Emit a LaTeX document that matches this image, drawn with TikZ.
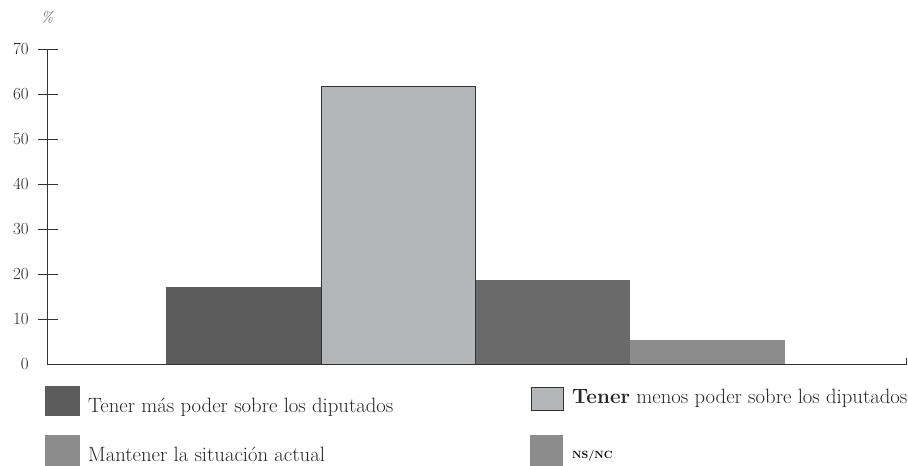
\documentclass[tikz,border=0pt]{standalone}
\usepackage{fontspec}
\setmainfont{Latin Modern Roman}
\definecolor{barA}{HTML}{5C5C5C}
\definecolor{barB}{HTML}{B4B6B8}
\definecolor{barC}{HTML}{6A6A6A}
\definecolor{barD}{HTML}{8C8C8C}
\begin{document}
\begin{tikzpicture}[x=1pt,y=-1pt,
  ticklab/.style={anchor=east,inner sep=0pt,font=\fontsize{17}{17}\selectfont,text=black!85},
  legtext/.style={anchor=west,inner sep=0pt,font=\fontsize{20.7}{20.7}\selectfont,text=black!85},
  axisline/.style={line width=0.9pt,black!80}]
\useasboundingbox (0,0) rectangle (908,466);
% bars
\fill[barA] (166,364) rectangle (321,287);
\fill[barC] (475,364) rectangle (630,280);
\fill[barD] (630,364) rectangle (785,340);
\filldraw[fill=barB,draw=black!80,line width=0.8pt] (321,364) rectangle (475,86);
% axes
\draw[axisline] (47,49) -- (47,364);
\draw[axisline] (47,364) -- (906,364) -- (906,358);
\foreach \v/\yy in {70/49,60/94,50/139,40/184,30/229,20/274,10/319} {
  \draw[axisline] (38,\yy) -- (58,\yy);
  \node[ticklab] (t\v) at (29,\yy) {\v};
}
\node[ticklab] (t0) at (29,364) {0};
\node[inner sep=0pt,font=\fontsize{15}{15}\selectfont\itshape,text=black!65] (pct) at (47,17) {\%};
% legend
\fill[barA] (45,386) rectangle (80,416);
\node[legtext] (l1) at (88,407) {Tener más poder sobre los diputados};
\fill[barD] (45,435) rectangle (80,466);
\node[legtext] (l2) at (88,454) {Mantener la situación actual};
\filldraw[fill=barB,draw=black!80,line width=0.8pt] (531,387) rectangle (563,410);
\node[legtext] (l3) at (572,398) {\textbf{Tener} menos poder sobre los diputados};
\fill[barD] (530,435) rectangle (563,466);
\node[inner sep=0pt,anchor=west,font=\fontsize{10.5}{10.5}\selectfont\bfseries] (l4) at (572,456) {NS/NC};
\end{tikzpicture}
\end{document}
